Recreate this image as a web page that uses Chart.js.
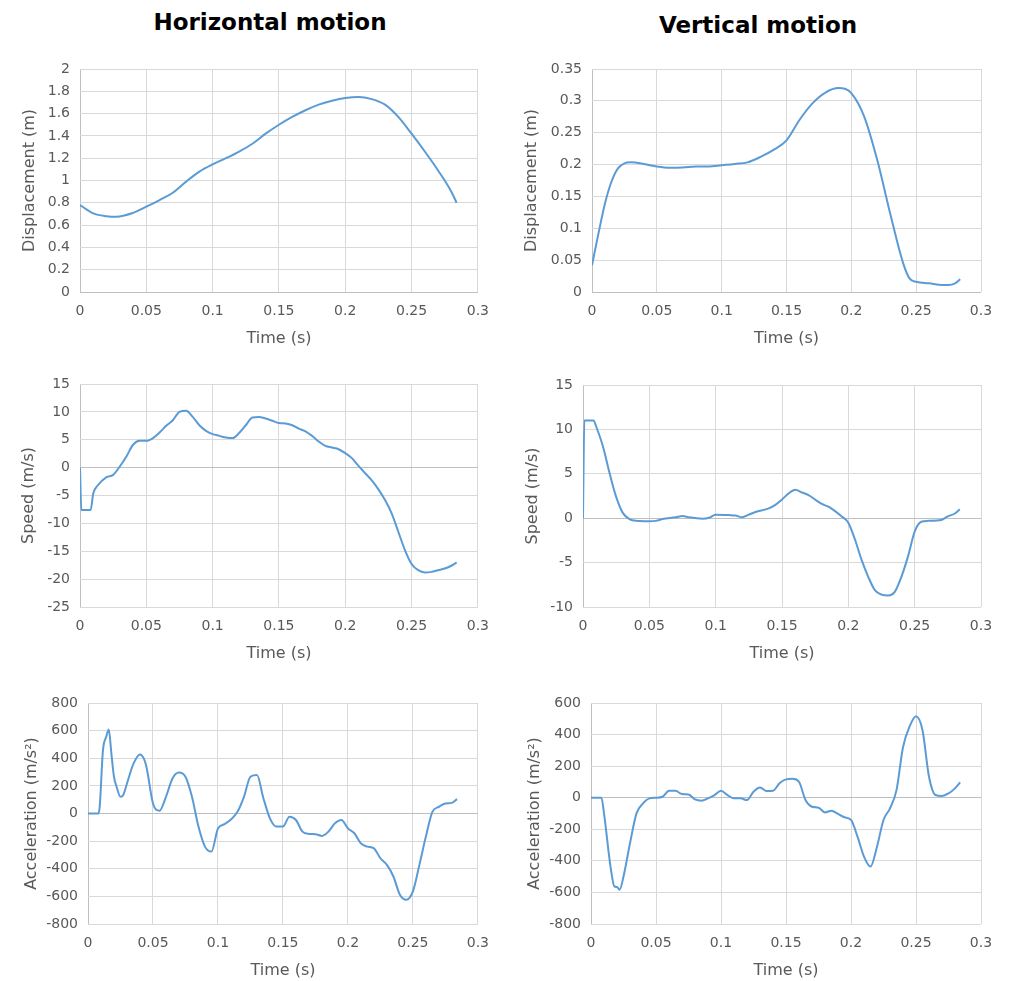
<!DOCTYPE html>
<html><head><meta charset="utf-8">
<script src="https://cdn.jsdelivr.net/npm/chart.js@4"></script>
<style>
html,body{margin:0;padding:0;background:#fff;overflow:hidden;width:1015px;height:981px;}
.t{position:absolute;font-family:"DejaVu Sans";font-weight:bold;font-size:23px;color:#000;white-space:nowrap;transform:translate(-50%,-50%);}
canvas{position:absolute;}
</style></head><body>
<div class="t" style="left:270px;top:22px">Horizontal motion</div>
<div class="t" style="left:758px;top:25px">Vertical motion</div>
<script>
// ---- data ----
const xTicks = [0, 0.05, 0.1, 0.15, 0.2, 0.25, 0.3];
const xLabels = ['0', '0.05', '0.1', '0.15', '0.2', '0.25', '0.3'];

const hDispTicks = [0, 0.2, 0.4, 0.6, 0.8, 1, 1.2, 1.4, 1.6, 1.8, 2];
const hDispLabels = ['0', '0.2', '0.4', '0.6', '0.8', '1', '1.2', '1.4', '1.6', '1.8', '2'];
const vDispTicks = [0, 0.05, 0.1, 0.15, 0.2, 0.25, 0.3, 0.35];
const vDispLabels = ['0', '0.05', '0.1', '0.15', '0.2', '0.25', '0.3', '0.35'];
const hSpeedTicks = [-25, -20, -15, -10, -5, 0, 5, 10, 15];
const hSpeedLabels = ['-25', '-20', '-15', '-10', '-5', '0', '5', '10', '15'];
const vSpeedTicks = [-10, -5, 0, 5, 10, 15];
const vSpeedLabels = ['-10', '-5', '0', '5', '10', '15'];
const hAccTicks = [-800, -600, -400, -200, 0, 200, 400, 600, 800];
const hAccLabels = ['-800', '-600', '-400', '-200', '0', '200', '400', '600', '800'];
const vAccTicks = [-800, -600, -400, -200, 0, 200, 400, 600];
const vAccLabels = ['-800', '-600', '-400', '-200', '0', '200', '400', '600'];

const hDispT = [0,0.01,0.02,0.0275,0.04,0.05,0.06,0.07,0.08,0.09,0.1,0.11,0.12,0.13,0.14,0.15,0.16,0.17,0.18,0.19,0.2,0.21,0.22,0.23,0.24,0.25,0.26,0.27,0.28,0.284];
const hDispV = [0.78,0.705,0.68,0.675,0.71,0.765,0.825,0.89,0.99,1.08,1.145,1.20,1.26,1.33,1.42,1.50,1.57,1.63,1.68,1.715,1.74,1.75,1.73,1.68,1.57,1.42,1.26,1.09,0.90,0.80];

const vDispT = [0,0.005,0.01,0.015,0.02,0.025,0.03,0.04,0.05,0.06,0.07,0.08,0.09,0.1,0.11,0.12,0.13,0.14,0.15,0.16,0.17,0.18,0.19,0.195,0.2,0.21,0.22,0.23,0.24,0.245,0.25,0.26,0.27,0.275,0.28,0.284];
const vDispV = [0.042,0.092,0.139,0.173,0.194,0.202,0.2035,0.201,0.197,0.195,0.1955,0.197,0.197,0.199,0.201,0.2035,0.212,0.223,0.238,0.270,0.296,0.313,0.320,0.319,0.312,0.275,0.207,0.123,0.045,0.021,0.016,0.0136,0.011,0.011,0.0136,0.02];

const hSpeedT = [0,0.001,0.008,0.01,0.013,0.02,0.025,0.03,0.035,0.04,0.045,0.05,0.055,0.06,0.065,0.07,0.075,0.08,0.085,0.09,0.095,0.1,0.105,0.11,0.115,0.12,0.125,0.13,0.135,0.14,0.145,0.15,0.155,0.16,0.165,0.17,0.175,0.18,0.185,0.19,0.195,0.2,0.205,0.21,0.215,0.22,0.225,0.23,0.235,0.24,0.245,0.25,0.255,0.26,0.265,0.27,0.275,0.28,0.284];
const hSpeedV = [0,-7.6,-7.6,-4.6,-3.3,-1.7,-1.3,0.2,2.0,4.1,4.8,4.8,5.3,6.3,7.5,8.5,10.0,10.2,9.1,7.6,6.6,6.0,5.7,5.4,5.3,6.2,7.6,9.0,9.1,8.8,8.4,8.0,7.9,7.6,7.0,6.5,5.7,4.7,3.9,3.6,3.3,2.6,1.7,0.3,-1.0,-2.3,-3.9,-5.8,-8.2,-11.5,-14.8,-17.3,-18.4,-18.8,-18.7,-18.4,-18.1,-17.6,-17.0];

const vSpeedT = [0,0.001,0.008,0.01,0.015,0.02,0.025,0.03,0.035,0.04,0.05,0.055,0.06,0.07,0.075,0.08,0.09,0.095,0.1,0.11,0.115,0.12,0.125,0.13,0.14,0.145,0.15,0.155,0.16,0.165,0.17,0.175,0.18,0.185,0.19,0.195,0.2,0.205,0.21,0.215,0.22,0.225,0.23,0.235,0.24,0.245,0.25,0.255,0.26,0.27,0.275,0.28,0.284];
const vSpeedV = [0,11.0,11.0,10.3,8.1,5.1,2.4,0.6,-0.1,-0.3,-0.35,-0.3,-0.1,0.1,0.25,0.1,-0.05,0.05,0.4,0.35,0.3,0.1,0.4,0.7,1.1,1.5,2.1,2.8,3.2,2.9,2.6,2.1,1.6,1.3,0.8,0.2,-0.5,-2.4,-4.7,-6.6,-8.1,-8.6,-8.7,-8.3,-6.6,-4.3,-1.5,-0.4,-0.3,-0.2,0.2,0.5,1.0];

const hAccT = [0,0.008,0.009,0.0115,0.014,0.016,0.018,0.02,0.022,0.025,0.027,0.03,0.035,0.04,0.043,0.045,0.05,0.055,0.06,0.065,0.07,0.075,0.08,0.085,0.09,0.095,0.1,0.105,0.11,0.115,0.12,0.125,0.13,0.135,0.14,0.145,0.15,0.155,0.16,0.165,0.17,0.175,0.18,0.185,0.19,0.195,0.2,0.205,0.21,0.215,0.22,0.225,0.23,0.235,0.24,0.245,0.25,0.255,0.26,0.265,0.27,0.275,0.28,0.284];
const hAccV = [0,0,48,457,555,608,434,266,194,121,132,217,361,428,397,337,73,20,121,254,297,266,121,-95,-240,-276,-108,-77,-43,12,121,266,278,109,-35,-95,-95,-23,-47,-131,-148,-150,-162,-131,-71,-47,-108,-143,-216,-240,-252,-324,-372,-456,-588,-624,-564,-372,-167,12,48,73,77,104];

const vAccT = [0,0.008,0.01,0.015,0.018,0.02,0.022,0.025,0.03,0.035,0.04,0.045,0.05,0.055,0.06,0.065,0.07,0.075,0.08,0.085,0.09,0.095,0.1,0.105,0.11,0.115,0.12,0.125,0.13,0.135,0.14,0.145,0.15,0.155,0.16,0.165,0.17,0.175,0.18,0.185,0.19,0.195,0.2,0.205,0.21,0.215,0.22,0.225,0.23,0.235,0.24,0.245,0.25,0.255,0.26,0.265,0.27,0.275,0.28,0.284];
const vAccV = [0,0,-99,-436,-562,-566,-583,-499,-288,-99,-36,-4,0,6,44,44,23,21,-11,-19,-4,17,44,17,-4,-4,-15,38,65,42,44,91,116,120,101,-15,-57,-63,-93,-82,-103,-124,-141,-246,-373,-436,-310,-141,-67,48,320,450,516,427,133,17,11,27,59,97];

// ---- drawing ----
const GRID = '#d9d9d9', AXIS = '#bfbfbf', TXT = '#595959', LINE = '#5b9bd5';

function make(spec) {
  const cv = document.createElement('canvas');
  cv.width = spec.w; cv.height = spec.h;
  cv.style.left = spec.left + 'px'; cv.style.top = spec.top + 'px';
  cv.style.width = spec.w + 'px'; cv.style.height = spec.h + 'px';
  document.body.appendChild(cv);
  const gridColor = c => (c.tick && Math.abs(c.tick.value) < 1e-9) ? AXIS : GRID;
  new Chart(cv, {
    type: 'line',
    data: {
      datasets: [{
        data: spec.T.map((t, i) => ({x: t, y: spec.V[i]})),
        borderColor: LINE, borderWidth: 2, pointRadius: 0,
        cubicInterpolationMode: 'monotone', fill: false
      }]
    },
    options: {
      responsive: false, animation: false, devicePixelRatio: 1,
      layout: {padding: {top: spec.padTop, right: spec.padRight, left: 0, bottom: 0}},
      plugins: {legend: {display: false}, tooltip: {enabled: false}},
      scales: {
        x: {
          type: 'linear', min: 0, max: 0.3,
          afterBuildTicks: s => { s.ticks = xTicks.map(v => ({value: v})); },
          afterFit: s => { s.height = 56; },
          grid: {color: gridColor, drawTicks: false, lineWidth: 1},
          border: {display: false},
          ticks: {autoSkip: false, maxRotation: 0, padding: 11, color: TXT,
            font: {family: 'DejaVu Sans', size: 14},
            callback: (v, i) => xLabels[i]},
          title: {display: true, text: 'Time (s)', color: TXT,
            font: {family: 'DejaVu Sans', size: 16}, padding: {top: 0, bottom: 0}}
        },
        y: {
          type: 'linear', min: spec.yTicks[0], max: spec.yTicks[spec.yTicks.length - 1],
          afterBuildTicks: s => { s.ticks = spec.yTicks.map(v => ({value: v})); },
          afterFit: s => { s.width = spec.yW; },
          grid: {color: gridColor, drawTicks: false, lineWidth: 1},
          border: {display: false},
          ticks: {autoSkip: false, padding: 10, color: TXT,
            font: {family: 'DejaVu Sans', size: 14},
            callback: (v, i) => spec.yLabels[i]},
          title: {display: true, text: spec.yTitle, color: TXT,
            font: {family: 'DejaVu Sans', size: 16}, padding: {top: spec.titleX - 9.6, bottom: 0}}
        }
      }
    }
  });
}

make({left: 0, top: 44, w: 500, h: 304, yW: 80, padTop: 25, padRight: 21, titleX: 30,
  yTitle: 'Displacement (m)', yTicks: hDispTicks, yLabels: hDispLabels, T: hDispT, V: hDispV});
make({left: 500, top: 44, w: 515, h: 304, yW: 92, padTop: 25, padRight: 34, titleX: 32,
  yTitle: 'Displacement (m)', yTicks: vDispTicks, yLabels: vDispLabels, T: vDispT, V: vDispV});
make({left: 0, top: 360, w: 500, h: 303, yW: 80, padTop: 24, padRight: 21, titleX: 29,
  yTitle: 'Speed (m/s)', yTicks: hSpeedTicks, yLabels: hSpeedLabels, T: hSpeedT, V: hSpeedV});
make({left: 500, top: 360, w: 515, h: 303, yW: 83, padTop: 25, padRight: 34, titleX: 33,
  yTitle: 'Speed (m/s)', yTicks: vSpeedTicks, yLabels: vSpeedLabels, T: vSpeedT, V: vSpeedV});
make({left: 0, top: 680, w: 500, h: 300, yW: 88, padTop: 23, padRight: 22, titleX: 32,
  yTitle: 'Acceleration (m/s²)', yTicks: hAccTicks, yLabels: hAccLabels, T: hAccT, V: hAccV});
make({left: 500, top: 680, w: 515, h: 300, yW: 91, padTop: 23, padRight: 34, titleX: 35,
  yTitle: 'Acceleration (m/s²)', yTicks: vAccTicks, yLabels: vAccLabels, T: vAccT, V: vAccV});
</script>
</body></html>
